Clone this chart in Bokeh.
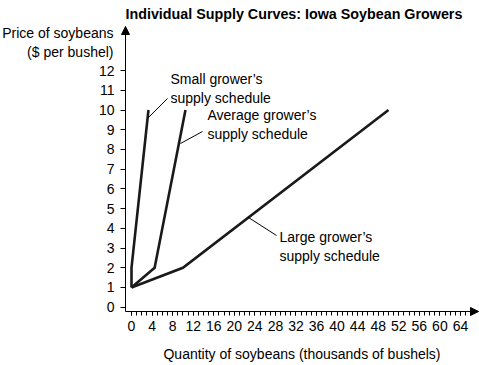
from bokeh.plotting import figure
from bokeh.models import Range1d, FixedTicker, Label, Arrow, NormalHead
from bokeh.embed import file_html
from bokeh.resources import INLINE

# ---- data ----
small_q = [0, 0, 3.3]
small_p = [1, 2, 10]
avg_q = [0, 4.5, 10.5]
avg_p = [1, 2, 10]
large_q = [0, 10, 50]
large_p = [1, 2, 10]
x_ticks = list(range(0, 65, 4))
x_minor = list(range(0, 66))
y_ticks = list(range(0, 13))

title_text = "Individual Supply Curves: Iowa Soybean Growers"
y_title = "Price of soybeans\n($ per bushel)"
x_title = "Quantity of soybeans (thousands of bushels)"
lbl_small = "Small grower\u2019s\nsupply schedule"
lbl_avg = "Average grower\u2019s\nsupply schedule"
lbl_large = "Large grower\u2019s\nsupply schedule"

# ---- layout (frame covers the whole canvas; axes sit at fixed locations) ----
W, H = 479, 365
FONT = "Liberation Sans"
XS, YS = 5.14, 19.72          # px per unit
X0, Y0 = 131, 306.7            # px of x=0 / y=0
AX_L, AX_R, AX_B, AX_T = 125, 478, 311, 26   # axis extents in px


def dx(px):
    return (px - X0) / XS


def dy(py):
    return (Y0 - py) / YS


p = figure(width=W, height=H, x_range=Range1d(dx(0), dx(W)),
           y_range=Range1d(dy(H), dy(0)),
           min_border=0, min_border_left=0, min_border_right=0,
           min_border_top=0, min_border_bottom=0,
           output_backend="svg", toolbar_location=None)
p.outline_line_color = None
p.xgrid.visible = False
p.ygrid.visible = False
p.background_fill_color = "white"
p.border_fill_color = "white"

# axes
xa = p.xaxis[0]
xa.fixed_location = dy(AX_B)
xa.bounds = (dx(AX_L), dx(AX_R))
xa.ticker = FixedTicker(ticks=x_ticks, minor_ticks=x_minor)
xa.major_tick_in = 0
xa.major_tick_out = 4
xa.minor_tick_in = 0
xa.minor_tick_out = 4
xa.major_tick_line_color = "black"
xa.minor_tick_line_color = "black"
xa.axis_line_color = "black"
xa.major_label_text_font = FONT
xa.major_label_text_font_size = "14px"
xa.major_label_text_color = "black"
xa.major_label_standoff = 5
xa.axis_label = x_title
xa.axis_label_text_font = FONT
xa.axis_label_text_font_size = "14px"
xa.axis_label_text_font_style = "normal"
xa.axis_label_text_color = "black"
xa.axis_label_standoff = 12

ya = p.yaxis[0]
ya.fixed_location = dx(AX_L)
ya.bounds = (dy(AX_B), dy(AX_T))
ya.ticker = FixedTicker(ticks=y_ticks, minor_ticks=[])
ya.major_tick_in = 0
ya.major_tick_out = 5
ya.major_tick_line_color = "black"
ya.axis_line_color = "black"
ya.major_label_text_font = FONT
ya.major_label_text_font_size = "14px"
ya.major_label_text_color = "black"
ya.major_label_standoff = 6

# axis arrows
head = dict(size=8, fill_color="black", line_color="black")
p.add_layout(Arrow(end=NormalHead(**head), x_start=dx(AX_L), y_start=dy(AX_T + 20),
                   x_end=dx(AX_L), y_end=dy(AX_T), line_color="black", line_width=1))
p.add_layout(Arrow(end=NormalHead(**head), x_start=dx(AX_R - 20), y_start=dy(AX_B),
                   x_end=dx(AX_R), y_end=dy(AX_B), line_color="black", line_width=1))

# curves
for q, pr in ((small_q, small_p), (avg_q, avg_p), (large_q, large_p)):
    p.line(q, pr, line_color="#1a1a1a", line_width=2.6, line_join="miter")

# leader lines
p.segment(x0=[dx(148), dx(180), dx(248)], y0=[dy(117), dy(143), dy(217)],
          x1=[dx(167), dx(202), dx(276)], y1=[dy(98), dy(131), dy(235)],
          line_color="black", line_width=1)


# texts
def add_label(text, x, y, align="left", baseline="middle", size="14px", style="normal"):
    p.add_layout(Label(x=x, y=y, text=text, text_align=align, text_baseline=baseline,
                       text_font=FONT, text_font_size=size, text_font_style=style,
                       text_color="black", text_line_height=1.2))


add_label(lbl_small, dx(170), dy(88))
add_label(lbl_avg, dx(207), dy(124))
add_label(lbl_large, dx(279), dy(246))
add_label(y_title, dx(113), dy(42), align="right")
add_label(title_text, dx(125), dy(13.5), baseline="alphabetic", size="14.3px", style="bold")

open("out.html", "w").write(file_html(p, INLINE))
